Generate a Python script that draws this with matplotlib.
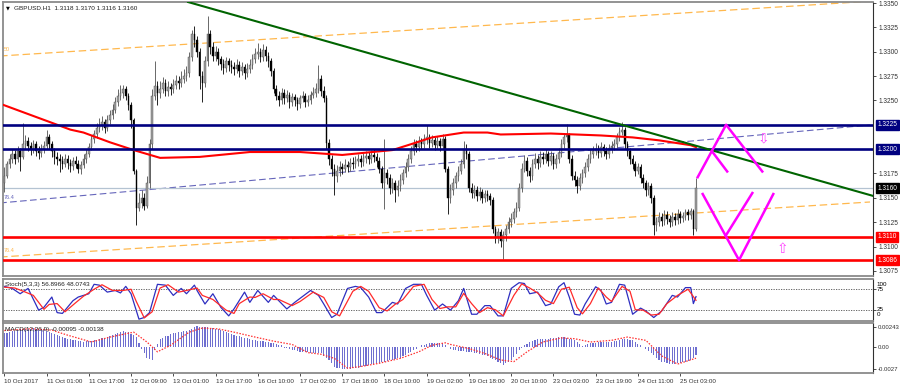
import numpy as np
import matplotlib
matplotlib.use("Agg")
import matplotlib.pyplot as plt
from matplotlib.transforms import blended_transform_factory

plt.rcParams['font.family'] = ['Liberation Sans', 'DejaVu Sans']

# ---------------- data ----------------
symbol_title = "GBPUSD.H1  1.3118 1.3170 1.3116 1.3160"
stoch_title = "Stoch(5,3,3) 56.8966 48.0743"
macd_title = "MACD(12,26,9) -0.00095 -0.00138"

base_price = 1.3000
pip = 0.0001
first_open = 165  # pips above base

closes = [
    172, 185, 190, 195, 190, 198, 192, 205, 208, 203,
    200, 205, 198, 196, 200, 203, 212, 205, 198, 192,
    190, 188, 185, 190, 186, 183, 188, 185, 180, 184,
    190, 195, 202, 210, 215, 222, 225, 228, 222, 230,
    235, 240, 248, 255, 258, 262, 255, 245, 230, 178,
    140, 145, 150, 142, 165, 205, 255, 265, 258, 262,
    268, 260, 264, 262, 266, 270, 268, 272, 275, 278,
    295, 318, 312, 300, 275, 268, 290, 318, 305, 296,
    300, 292, 287, 283, 290, 286, 284, 282, 286, 280,
    284, 278, 282, 286, 292, 298, 300, 295, 302, 296,
    290, 280, 262, 255, 250, 258, 252, 256, 248, 254,
    250, 246, 252, 255, 248, 250, 256, 258, 262, 272,
    260, 252, 206, 190, 180, 172, 178, 182, 180, 184,
    182, 186, 185, 188, 190, 187, 191, 193, 190, 194,
    192, 188, 180, 165, 175, 170, 160, 165, 158, 162,
    168, 175, 182, 190, 198, 205, 202, 208, 205, 210,
    212, 206, 209, 204, 208, 203, 210, 180, 150, 158,
    165, 172, 178, 185, 200, 195, 160, 155, 158, 152,
    156, 150, 154, 152, 148, 118, 110, 115, 106, 112,
    118, 125, 128, 135, 140, 160, 180, 188, 178, 172,
    185, 190, 186, 192, 190, 195, 188, 193, 185, 190,
    196, 205, 212, 214, 190, 172, 168, 162, 170, 175,
    182, 190, 195, 198, 200, 196, 202, 198, 195, 200,
    203, 205, 212, 218, 220, 205, 198, 190, 185, 178,
    182, 170, 165, 158, 162, 150, 122, 125, 130, 126,
    132, 128, 125, 130, 127, 133, 129, 131, 135, 132,
    136, 118, 160,
]
highs = [
    182, 188, 195, 200, 199, 203, 201, 227, 214, 212,
    207, 209, 208, 203, 205, 208, 220, 215, 208, 201,
    197, 195, 193, 195, 194, 190, 192, 193, 189, 188,
    195, 200, 206, 214, 220, 227, 232, 234, 231, 235,
    240, 246, 253, 262, 266, 266, 265, 258, 248, 232,
    180, 155, 158, 155, 172, 210, 262, 290, 270, 270,
    274, 272, 270, 268, 272, 276, 275, 280, 282, 285,
    300, 322, 326, 316, 304, 280, 296, 337, 322, 310,
    306, 304, 296, 292, 295, 294, 291, 289, 292, 290,
    289, 287, 288, 292, 298, 304, 309, 304, 308, 306,
    300, 294, 283, 266, 260, 263, 262, 261, 259, 258,
    257, 254, 256, 260, 258, 256, 260, 264, 268, 286,
    276, 265, 256, 210, 194, 185, 184, 188, 186, 190,
    188, 191, 192, 193, 195, 194, 196, 198, 197, 199,
    200, 196, 192, 183, 210, 180, 174, 170, 168, 168,
    174, 180, 187, 195, 203, 210, 209, 213, 211, 215,
    225, 215, 214, 212, 213, 211, 215, 213, 183, 164,
    170, 177, 183, 190, 208, 205, 198, 165, 163, 162,
    161, 159, 158, 158, 155, 151, 121, 119, 118, 116,
    122, 130, 134, 140, 146, 165, 186, 194, 192, 182,
    190, 196, 194, 198, 197, 200, 198, 198, 196, 195,
    201, 210, 217, 226, 217, 194, 178, 172, 175, 180,
    187, 195, 200, 203, 206, 204, 207, 205, 202, 205,
    208, 210, 217, 223, 228, 223, 208, 201, 194, 188,
    186, 185, 174, 168, 166, 165, 153, 130, 135, 134,
    137, 136, 132, 135, 134, 138, 136, 135, 139, 138,
    140, 138, 170,
]
lows = [
    156, 170, 181, 186, 185, 187, 178, 190, 200, 198,
    194, 196, 193, 190, 192, 196, 200, 200, 192, 185,
    184, 176, 180, 182, 180, 176, 179, 181, 175, 174,
    181, 186, 192, 199, 206, 211, 218, 220, 217, 219,
    226, 231, 237, 244, 250, 252, 250, 240, 222, 174,
    122, 136, 140, 137, 140, 160, 200, 250, 245, 252,
    258, 255, 255, 256, 258, 262, 262, 264, 268, 270,
    274, 290, 305, 295, 262, 248, 264, 285, 298, 290,
    290, 286, 281, 277, 279, 280, 278, 276, 278, 274,
    276, 272, 274, 278, 282, 288, 292, 289, 290, 290,
    284, 275, 258, 250, 244, 246, 246, 248, 242, 244,
    244, 240, 242, 248, 243, 244, 246, 252, 254, 258,
    255, 248, 200, 184, 172, 153, 166, 172, 174, 176,
    177, 178, 180, 181, 183, 182, 183, 186, 185, 186,
    187, 182, 175, 160, 138, 164, 154, 155, 146, 152,
    157, 164, 171, 178, 186, 194, 197, 198, 200, 201,
    205, 201, 202, 199, 200, 198, 200, 176, 133, 145,
    153, 160, 167, 174, 181, 190, 156, 150, 150, 147,
    148, 145, 146, 147, 143, 114, 104, 104, 100, 87,
    106, 114, 120, 124, 130, 136, 156, 176, 172, 166,
    168, 181, 180, 182, 185, 186, 183, 184, 180, 181,
    186, 192, 201, 207, 186, 168, 162, 155, 158, 165,
    171, 178, 186, 191, 194, 191, 192, 193, 190, 191,
    196, 199, 201, 208, 214, 200, 193, 185, 180, 172,
    174, 165, 160, 152, 153, 145, 112, 116, 121, 121,
    122, 123, 120, 121, 122, 123, 124, 125, 127, 127,
    128, 112, 116,
]

# moving average (red) read at bar positions, pips above base
ma_bars = [-2, 15, 25, 30, 40, 49, 59, 74, 93, 112, 128, 147, 154, 162,
           174, 183, 188, 207, 226, 238, 248, 260, 262]
ma_pips = [247, 230, 220, 217, 207, 199, 191, 192, 197, 197, 194, 199, 205,
           212, 217, 217, 215, 216, 214, 212, 209, 204, 202]

# horizontal levels
resistance_levels = [1.3225, 1.3200]
support_levels = [1.3110, 1.3086]
bid_price = 1.3160
price_ticks = [1.3350, 1.3325, 1.3300, 1.3275, 1.3250, 1.3175, 1.3150,
               1.3125, 1.3100, 1.3075]

# drawn objects (bar, price)
green_trend_bars = [69.6, 329.0]
green_trend_prices = [1.3351, 1.3152]
orange_upper_bars = [-1.6, 329.0]
orange_upper_prices = [1.32956, 1.3352]
orange_lower_bars = [-1.6, 327.9]
orange_lower_prices = [1.30892, 1.31457]
blue_mid_bars = [-1.6, 327.9]
blue_mid_prices = [1.31447, 1.32247]

zig_up_bars = [262.4, 273.4, 287.4]
zig_up_prices = [1.3170, 1.3225, 1.3176]
zig_up_inner_bars = [267.7, 274.1]
zig_up_inner_prices = [1.3199, 1.3176]
zig_dn_bars = [264.3, 278.3, 291.5]
zig_dn_prices = [1.3155, 1.3086, 1.3155]
zig_dn_inner_bars = [273.0, 283.6]
zig_dn_inner_prices = [1.3110, 1.3156]
arrow_down = (287.4, 1.3211)
arrow_up = (294.6, 1.3097)

# stochastic (%K blue, %D red) read at bar positions
k_bars = [0, 3, 6, 9, 13, 15, 18, 20, 22, 26, 28, 32, 34, 36, 39, 42, 44, 46, 48,
          51, 53, 55, 58, 61, 64, 67, 69, 72, 73, 76, 79, 82, 85, 87, 91, 93, 96,
          100, 102, 107, 110, 116, 119, 121, 124, 126, 130, 133, 135, 138, 141,
          143, 147, 149, 152, 155, 158, 160, 163, 166, 169, 172, 174, 177, 179,
          182, 184, 187, 189, 192, 195, 197, 199, 202, 205, 207, 210, 212, 214,
          216, 218, 220, 224, 226, 228, 230, 233, 235, 238, 241, 243, 246, 249,
          253, 255, 258, 260, 261, 262]
k_vals = [82, 77, 64, 77, 24, 31, 56, 18, 16, 47, 56, 64, 87, 85, 68, 72, 66, 82, 64,
          2, 6, 18, 87, 85, 60, 77, 64, 85, 72, 39, 64, 31, 10, 27, 68, 43, 72,
          43, 60, 27, 43, 72, 60, 39, 6, 14, 77, 82, 79, 56, 18,
          18, 43, 39, 77, 87, 87, 60, 24, 39, 24, 47, 77, 14, 14,
          35, 35, 10, 10, 77, 91, 89, 64, 68, 35, 39, 81, 91, 56,
          14, 12, 39, 81, 72, 39, 43, 87, 85, 14, 29, 22, 6, 22,
          60, 56, 79, 79, 40, 57]
d_bars = [0, 4, 8, 11, 15, 17, 20, 23, 27, 30, 34, 37, 41, 45, 48, 50, 53, 56, 59,
          62, 66, 69, 73, 75, 79, 84, 87, 89, 93, 95, 98, 102, 104, 109, 112, 117,
          121, 124, 127, 132, 135, 138, 142, 145, 148, 151, 155, 159, 162, 165,
          168, 171, 174, 177, 180, 183, 186, 189, 193, 196, 199, 202, 205, 208,
          211, 214, 217, 219, 222, 225, 228, 230, 234, 237, 239, 242, 245, 248,
          251, 255, 259, 262]
d_vals = [80, 78, 68, 60, 26, 38, 40, 20, 42, 58, 75, 86, 72, 72, 75, 45, 5, 20, 78,
          86, 68, 72, 78, 60, 50, 24, 16, 40, 56, 55, 64, 50, 50, 35, 45, 68,
          55, 20, 10, 70, 82, 70, 30, 22, 38, 50, 82, 87, 50, 28,
          32, 32, 65, 40, 18, 30, 25, 10, 60, 88, 78, 66, 48, 40,
          75, 80, 30, 15, 40, 78, 56, 45, 82, 70, 25, 24, 12, 14,
          40, 60, 75, 48]

# MACD histogram, one value per bar, in units of 1e-5
macd_hist = [
    164, 172, 180, 189, 197, 205, 214, 216, 219, 221,
    224, 226, 223, 220, 217, 214, 197, 181, 164, 154,
    144, 133, 123, 112, 102, 95, 88, 82, 75, 68,
    61, 66, 71, 76, 81, 89, 97, 106, 114, 122,
    133, 145, 156, 167, 179, 190, 185, 180, 161, 141,
    122, 51, -20, -79, -138, -150, -163, -40, 31, 102,
    114, 127, 139, 152, 164, 171, 177, 184, 191, 197,
    204, 220, 237, 253, 249, 245, 241, 237, 231, 226,
    220, 214, 202, 190, 178, 167, 155, 143, 135, 127,
    120, 112, 104, 96, 89, 81, 77, 73, 69, 65,
    61, 53, 45, 37, 28, 20, -10, -18, -27, -35,
    -43, -52, -60, -63, -65, -68, -70, -73, -75, -78,
    -80, -108, -135, -163, -202, -240, -252, -263, -275, -272,
    -269, -266, -263, -260, -252, -244, -236, -228, -220, -213,
    -207, -200, -193, -187, -180, -172, -163, -155, -147, -138,
    -130, -112, -94, -76, -58, -40, -20, 0, 20, 28,
    35, 43, 50, 50, 50, 50, 50, 27, 3, -20,
    -40, -43, -47, -50, -53, -57, -60, -67, -73, -80,
    -87, -93, -100, -116, -132, -148, -164, -180, -200, -220,
    -201, -182, -163, -122, -81, -40, -10, 20, 38, 55,
    73, 90, 92, 94, 96, 98, 100, 104, 107, 111,
    115, 118, 122, 112, 101, 91, 80, 57, 33, 10,
    23, 37, 50, 51, 53, 54, 55, 56, 58, 59,
    60, 68, 76, 84, 92, 100, 93, 87, 80, 60,
    40, 20, 0, -27, -53, -80, -105, -130, -155, -180,
    -188, -195, -203, -210, -204, -198, -192, -186, -180, -170,
    -160, -140, -95,
]
signal_bars = [0, 10, 18, 24, 33, 40, 49, 54, 58, 63, 70, 75, 81, 87, 95, 102, 109,
               115, 120, 125, 130, 135, 142, 150, 157, 162, 167, 169, 176, 182,
               188, 193, 198, 204, 211, 216, 222, 230, 236, 243, 249, 255, 262]
signal_vals = [200, 222, 205, 143, 60, 120, 180, 60, -60, 20, 180, 230, 220, 180,
               120, 70, 30, -70, -90, -140, -260, -240, -200, -140, -60, 20, 50,
               30, -20, -80, -160, -180, -60, 60, 110, 100, 60, 80, 120, 80,
               -110, -210, -138]

time_labels = ["10 Oct 2017", "11 Oct 01:00", "11 Oct 17:00", "12 Oct 09:00",
               "13 Oct 01:00", "13 Oct 17:00", "16 Oct 10:00", "17 Oct 02:00",
               "17 Oct 18:00", "18 Oct 10:00", "19 Oct 02:00", "19 Oct 18:00",
               "20 Oct 10:00", "23 Oct 03:00", "23 Oct 19:00", "24 Oct 11:00",
               "25 Oct 03:00"]
time_label_bars = [0, 16, 32, 48, 64, 80, 96, 112, 128, 144, 160, 176, 192,
                   208, 224, 240, 256]

# ---------------- figure ----------------
W, H = 900, 387
fig = plt.figure(figsize=(W / 100, H / 100), dpi=100)
fig.patch.set_facecolor('white')


def rect(l, t, r, b):
    return [l / W, 1 - b / H, (r - l) / W, (b - t) / H]


ax = fig.add_axes(rect(3, 2, 873, 276))
axs = fig.add_axes(rect(3, 279, 873, 321), sharex=ax)
axm = fig.add_axes(rect(3, 323, 873, 373), sharex=ax)

n = len(closes)
x = np.arange(n)
c = base_price + np.array(closes) * pip
o = base_price + np.array([first_open] + closes[:-1]) * pip
hi = base_price + np.array(highs) * pip
lo = base_price + np.array(lows) * pip
bull = c >= o

XMIN, XMAX = -0.5, -0.5 + 870 / 2.64
for a in (ax, axs, axm):
    a.set_xlim(XMIN, XMAX)
    a.set_facecolor('white')
    for s in ('left', 'top', 'bottom'):
        a.spines[s].set_color('#8a8a8a')
        a.spines[s].set_linewidth(1.3)
    a.spines['right'].set_color('#303030')
    a.spines['right'].set_linewidth(0.8)
    a.tick_params(axis='y', which='both', left=False, right=True, labelleft=False,
                  labelright=True, direction='out', length=2.5, width=0.6,
                  colors='#303030', labelsize=4.7, pad=1.5)
    a.tick_params(axis='x', which='both', bottom=False, labelbottom=False, top=False)

# ---------- main price panel ----------
ax.set_ylim(1.3350 - 273 / 9740, 1.3350 + 1 / 9740)

# channel / trend lines
ax.plot(orange_upper_bars, orange_upper_prices, color='#FFB84D', lw=0.9,
        dashes=(6, 3), zorder=1)
ax.plot(orange_lower_bars, orange_lower_prices, color='#FFB84D', lw=0.9,
        dashes=(6, 3), zorder=1)
ax.plot(blue_mid_bars, blue_mid_prices, color='#6666BB', lw=0.8,
        dashes=(6, 3), zorder=1)
ax.axhline(bid_price, color='#B4C3D2', lw=0.9, zorder=1)

# candles
wick_col = np.where(bull, '#505050', '#000000')
ax.vlines(x, lo, hi, colors=wick_col, lw=0.6, zorder=3)
body_h = np.maximum(np.abs(c - o), 0.00002)
ax.bar(x, body_h, bottom=np.minimum(o, c), width=0.62,
       color=np.where(bull, '#A0A0A0', '#000000'),
       edgecolor=np.where(bull, '#4a4a4a', '#000000'), linewidth=0.3, zorder=3)

# moving average
ax.plot(ma_bars, base_price + np.array(ma_pips) * pip, color='#FF0000', lw=1.5,
        zorder=4)

# horizontal levels
for lv in resistance_levels:
    ax.axhline(lv, color='#000080', lw=1.9, zorder=4)
for lv in support_levels:
    ax.axhline(lv, color='#FF0000', lw=1.9, zorder=4)

# green trendline
ax.plot(green_trend_bars, green_trend_prices, color='#006400', lw=1.5, zorder=4)

# magenta scenario drawings
mag = '#FF00FF'
for bx, py in ((zig_up_bars, zig_up_prices), (zig_up_inner_bars, zig_up_inner_prices),
               (zig_dn_bars, zig_dn_prices), (zig_dn_inner_bars, zig_dn_inner_prices)):
    ax.plot(bx, py, color=mag, lw=1.8, solid_capstyle='butt', zorder=5)
ax.text(arrow_down[0], arrow_down[1], '\u21e9', color='#FF44FF', fontsize=10,
        ha='center', va='center', family=['DejaVu Sans'], zorder=5)
ax.text(arrow_up[0], arrow_up[1], '\u21e7', color='#FF44FF', fontsize=10,
        ha='center', va='center', family=['DejaVu Sans'], zorder=5)

# y ticks / labels
ax.set_yticks(price_ticks)
ax.set_yticklabels(['%.4f' % p for p in price_ticks])
trans = blended_transform_factory(ax.transAxes, ax.transData)
for lv, fc in ((1.3225, '#000080'), (1.3200, '#000080'), (bid_price, '#000000'),
               (1.3110, '#FF0000'), (1.3086, '#FF0000')):
    ax.annotate('%.4f' % lv, xy=(1, lv), xycoords=trans, xytext=(3, 0),
                textcoords='offset points', ha='left', va='center',
                fontsize=4.7, color='white', annotation_clip=False,
                bbox=dict(boxstyle='square,pad=0.25', fc=fc, ec=fc))

# small fib labels
ax.text(0.5 / 870, 1.3350 - 46 / 9740, '50', color='#FFB84D', fontsize=4,
        transform=trans, ha='left', va='center')
ax.text(0.5 / 870, 1.3350 - 194 / 9740, '76.4', color='#6666BB', fontsize=4,
        transform=trans, ha='left', va='center')
ax.text(0.5 / 870, 1.3350 - 247 / 9740, '76.4', color='#FFB84D', fontsize=4,
        transform=trans, ha='left', va='center')

# title
ax.text(3 / 870, 1 - 6 / 274, '\u25bc', transform=ax.transAxes, fontsize=3.6,
        ha='left', va='center', family=['DejaVu Sans'])
ax.text(11 / 870, 1 - 6 / 274, symbol_title, transform=ax.transAxes,
        fontsize=4.6, ha='left', va='center', color='#202020')

# ---------- stochastic panel ----------
axs.set_ylim(-2.5, 100)
for lv in (75, 25):
    axs.axhline(lv, color='#505050', lw=0.6, dashes=(1.5, 1.5))
axs.plot(k_bars, k_vals, color='#2E2EC0', lw=0.9)
axs.plot(d_bars, d_vals, color='#FF2A2A', lw=0.9)
axs.set_yticks([75, 25])
axs.set_yticklabels([])
strans = blended_transform_factory(axs.transAxes, axs.transData)
for val, dy in ((100, -4), (75, 0), (25, 0), (0, 4)):
    axs.annotate(str(val), xy=(1, val), xycoords=strans, xytext=(2.5, dy),
                 textcoords='offset points', ha='left', va='center', fontsize=4.5,
                 annotation_clip=False)
axs.text(2 / 870, 0.88, stoch_title, transform=axs.transAxes, fontsize=4.6,
         ha='left', va='center', color='#202020')

# ---------- MACD panel ----------
axm.set_ylim(-0.0027 - 4 / 8187, 0.00243 + 4 / 8187)
axm.bar(x, np.array(macd_hist) * 1e-5, width=0.42, color='#6F6FD0', lw=0)
axm.plot(signal_bars, np.array(signal_vals) * 1e-5, color='#FF3030', lw=0.9,
         dashes=(1.2, 1.2))
axm.set_yticks([0.00243, 0.0, -0.0027])
axm.set_yticklabels(['0.00243', '0.00', '-0.0027'])
axm.tick_params(axis='y', labelsize=4.3, pad=1.2)
axm.text(2 / 870, 0.88, macd_title, transform=axm.transAxes, fontsize=4.6,
         ha='left', va='center', color='#202020')

axm.set_xticks(time_label_bars)
axm.set_xticklabels(time_labels)
axm.tick_params(axis='x', bottom=True, labelbottom=True, length=2.5, width=0.6,
                colors='#303030', labelsize=4.5, pad=1.5)
for lbl in axm.get_xticklabels():
    lbl.set_horizontalalignment('left')

fig.savefig('out.png', dpi=100, facecolor='white')
